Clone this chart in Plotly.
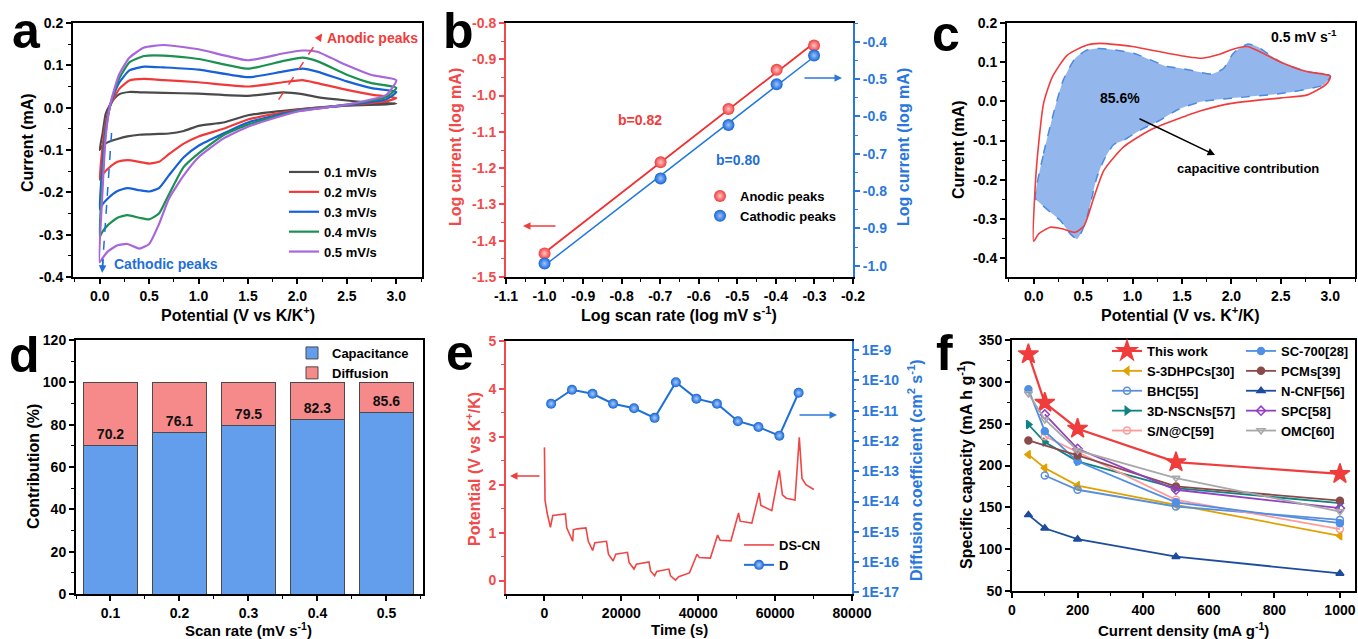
import numpy as np
import plotly.graph_objects as go

W, H = 1358, 639
FONT = "Liberation Sans"
RED = "#f03c3c"
BLUE = "#1f6fd8"

# ---------------- panel a : CV curves ----------------
cv_rates = ["0.1 mV/s", "0.2 mV/s", "0.3 mV/s", "0.4 mV/s", "0.5 mV/s"]
cv_colors = ["#4a4a4a", "#f03a3a", "#1660d8", "#1a9150", "#a866dc"]
anodic_V = [0.0, 0.03, 0.06, 0.1, 0.15, 0.2, 0.3, 0.45, 0.65, 1.0, 1.5, 1.85, 2.05, 2.2, 2.5, 2.75, 3.0]
anodic_I_01 = [-0.100, -0.060, -0.015, 0.005, 0.022, 0.032, 0.037, 0.036, 0.035, 0.033, 0.028, 0.036, 0.032, 0.025, 0.017, 0.012, 0.010]
anodic_I_02 = [-0.170, -0.090, -0.035, 0.000, 0.025, 0.045, 0.064, 0.068, 0.065, 0.060, 0.050, 0.060, 0.065, 0.058, 0.042, 0.031, 0.023]
anodic_I_03 = [-0.240, -0.130, -0.050, 0.000, 0.035, 0.060, 0.088, 0.097, 0.095, 0.090, 0.072, 0.085, 0.092, 0.085, 0.062, 0.046, 0.037]
anodic_I_04 = [-0.305, -0.160, -0.060, 0.000, 0.040, 0.070, 0.107, 0.122, 0.123, 0.115, 0.092, 0.110, 0.118, 0.110, 0.078, 0.058, 0.047]
anodic_I_05 = [-0.365, -0.190, -0.070, 0.000, 0.045, 0.080, 0.118, 0.142, 0.148, 0.138, 0.112, 0.128, 0.135, 0.132, 0.100, 0.077, 0.065]
cathodic_V = [3.0, 2.9, 2.5, 2.0, 1.5, 1.25, 1.0, 0.85, 0.7, 0.6, 0.5, 0.4, 0.28, 0.18, 0.08, 0.03, 0.0]
cathodic_I_01 = [0.010, 0.008, 0.005, -0.004, -0.018, -0.035, -0.043, -0.055, -0.061, -0.062, -0.063, -0.064, -0.068, -0.074, -0.082, -0.090, -0.100]
cathodic_I_02 = [0.023, 0.015, 0.006, -0.005, -0.028, -0.050, -0.068, -0.085, -0.110, -0.128, -0.132, -0.128, -0.124, -0.128, -0.145, -0.158, -0.170]
cathodic_I_03 = [0.037, 0.020, 0.006, -0.007, -0.035, -0.061, -0.090, -0.117, -0.160, -0.190, -0.198, -0.195, -0.190, -0.197, -0.215, -0.228, -0.240]
cathodic_I_04 = [0.047, 0.025, 0.007, -0.008, -0.040, -0.065, -0.108, -0.140, -0.205, -0.250, -0.264, -0.260, -0.254, -0.260, -0.278, -0.292, -0.305]
cathodic_I_05 = [0.065, 0.030, 0.007, -0.009, -0.045, -0.073, -0.117, -0.160, -0.215, -0.275, -0.322, -0.333, -0.322, -0.325, -0.340, -0.355, -0.365]
anodic_sets = [anodic_I_01, anodic_I_02, anodic_I_03, anodic_I_04, anodic_I_05]
cathodic_sets = [cathodic_I_01, cathodic_I_02, cathodic_I_03, cathodic_I_04, cathodic_I_05]

# ---------------- panel b : log i vs log v ----------------
log_v = [-1.0, -0.699, -0.523, -0.398, -0.301]
log_i_anodic = [-1.435, -1.184, -1.037, -0.929, -0.862]
log_i_cathodic = [-0.994, -0.766, -0.623, -0.514, -0.437]

# ---------------- panel c : capacitive contribution ----------------
c_total_V = [0.0, 0.017, 0.05, 0.10, 0.19, 0.34, 0.54, 0.67, 1.0, 1.18, 1.55, 1.70, 1.88, 2.0, 2.16, 2.5, 2.76, 3.0,
             2.98, 2.93, 2.76, 2.5, 2.0, 1.69, 1.52, 1.18, 0.91, 0.71, 0.61, 0.51, 0.42, 0.29, 0.17, 0.05, 0.0]
c_total_I = [-0.357, -0.21, -0.108, -0.005, 0.063, 0.118, 0.144, 0.148, 0.140, 0.131, 0.114, 0.110, 0.120, 0.132, 0.140, 0.100, 0.076, 0.065,
             0.050, 0.038, 0.016, 0.009, -0.005, -0.024, -0.039, -0.073, -0.116, -0.176, -0.244, -0.317, -0.334, -0.325, -0.321, -0.338, -0.357]
c_cap_V = [0.017, 0.10, 0.20, 0.30, 0.42, 0.54, 0.67, 1.01, 1.35, 1.50, 1.65, 1.80, 1.92, 2.02, 2.16, 2.26, 2.5, 2.76, 3.0,
           2.93, 2.5, 2.0, 1.69, 1.45, 1.28, 1.08, 0.91, 0.81, 0.71, 0.64, 0.59, 0.54, 0.49, 0.44, 0.37, 0.27, 0.17, 0.07, 0.017]
c_cap_I = [-0.248, -0.133, -0.031, 0.055, 0.110, 0.131, 0.135, 0.123, 0.089, 0.084, 0.076, 0.070, 0.084, 0.123, 0.146, 0.140, 0.100, 0.076, 0.065,
           0.042, 0.020, 0.008, -0.001, -0.022, -0.048, -0.073, -0.099, -0.110, -0.150, -0.193, -0.244, -0.295, -0.330, -0.351, -0.338, -0.304, -0.283, -0.261, -0.248]

# ---------------- panel d : contribution bars ----------------
scan_rates = [0.1, 0.2, 0.3, 0.4, 0.5]
capacitance = [70.2, 76.1, 79.5, 82.3, 85.6]
diffusion = [round(100 - c, 1) for c in capacitance]

# ---------------- panel e : GITT ----------------
gitt_t = [0, 150, 700, 1550, 2170, 5440, 5800, 7350, 7510, 8500, 10800, 11400, 12530, 13130, 16150, 16650, 17860, 18560,
          21590, 22020, 23300, 23900, 27190, 27600, 28660, 29200, 32360, 32800, 34100, 34900, 37720, 39700, 40300, 43160,
          45050, 45700, 48510, 50490, 50900, 53950, 55840, 56300, 59130, 61100, 61900, 62900, 65170, 66290, 67000, 68000, 70080]
gitt_V = [2.78, 1.68, 1.41, 1.11, 1.36, 1.39, 1.10, 0.82, 1.06, 1.08, 1.10, 0.82, 0.63, 0.79, 0.82, 0.55, 0.41, 0.55,
          0.59, 0.38, 0.24, 0.34, 0.39, 0.20, 0.10, 0.19, 0.24, 0.10, 0.01, 0.08, 0.16, 0.55, 0.48, 0.47,
          0.95, 0.84, 0.83, 1.41, 1.24, 1.20, 1.83, 1.57, 1.46, 2.30, 1.79, 1.72, 1.68, 2.99, 2.13, 2.00, 1.90]
d_time = [1730, 7160, 12510, 17860, 23300, 28650, 34180, 39530, 44880, 50310, 55660, 61100, 66110]
d_coeff = [1.7e-11, 4.9e-11, 3.6e-11, 1.7e-11, 1.2e-11, 5.8e-12, 8.7e-11, 2.5e-11, 1.7e-11, 4.5e-12, 2.9e-12, 1.5e-12, 3.9e-11]

# ---------------- panel f : rate capability comparison ----------------
f_names = ["This work", "S-3DHPCs[30]", "BHC[55]", "3D-NSCNs[57]", "S/N@C[59]",
           "SC-700[28]", "PCMs[39]", "N-CNF[56]", "SPC[58]", "OMC[60]"]
f_x = [[50, 100, 200, 500, 1000], [50, 100, 200, 500, 1000], [100, 200, 500, 1000], [50, 100, 200, 500, 1000], [100, 200, 500, 1000],
       [50, 100, 200, 500, 1000], [50, 200, 500, 1000], [50, 100, 200, 500, 1000], [100, 200, 500, 1000], [50, 100, 200, 500, 1000]]
f_y = [[333, 275, 244, 204, 190], [213, 197, 176, 153, 116], [188, 171, 151, 135], [249, 228, 205, 173, 155], [235, 216, 159, 124],
       [291, 241, 205, 156, 131], [230, 212, 175, 158], [141, 125, 112, 91, 71], [261, 220, 171, 149], [286, 255, 218, 185, 145]]
f_colors = ["#f03c3c", "#e0a200", "#5b8fd8", "#0f8282", "#ff9a9a",
            "#4f8fe6", "#8b4a4a", "#1d4c9e", "#9440c4", "#a8a8a8"]
f_symbols = ["star", "triangle-left", "circle-open", "triangle-right", "circle-open",
             "circle", "circle", "triangle-up", "diamond-open", "triangle-down-open"]


def px(x):
    return x / W


def py(y):
    return 1 - y / H


fig = go.Figure()

# ---- a ----
for name, col, an, ca in zip(cv_rates, cv_colors, anodic_sets, cathodic_sets):
    fig.add_trace(go.Scatter(x=anodic_V + cathodic_V[1:], y=an + ca[1:], mode="lines", name=name,
                             line=dict(color=col, width=2.2, shape="spline", smoothing=0.5),
                             xaxis="x", yaxis="y", legend="legend"))

# ---- b ----
fit_a = np.polyfit(log_v, log_i_anodic, 1)
fit_c = np.polyfit(log_v, log_i_cathodic, 1)
xfit = np.array([min(log_v), max(log_v)])
fig.add_trace(go.Scatter(x=xfit, y=np.polyval(fit_a, xfit), mode="lines", line=dict(color="#f03030", width=1.8),
                         showlegend=False, xaxis="x2", yaxis="y2"))
fig.add_trace(go.Scatter(x=xfit, y=np.polyval(fit_c, xfit), mode="lines", line=dict(color="#1f78e0", width=1.5),
                         showlegend=False, xaxis="x2", yaxis="y3"))
fig.add_trace(go.Scatter(x=log_v, y=log_i_anodic, mode="markers", name="Anodic peaks",
                         marker=dict(size=12, color="#f03c3c", gradient=dict(type="radial", color="#ffc4c4"),
                                     line=dict(width=0)),
                         xaxis="x2", yaxis="y2", legend="legend2"))
fig.add_trace(go.Scatter(x=log_v, y=log_i_cathodic, mode="markers", name="Cathodic peaks",
                         marker=dict(size=12, color="#1464d4", gradient=dict(type="radial", color="#9cc4ff"),
                                     line=dict(width=0)),
                         xaxis="x2", yaxis="y3", legend="legend2"))

# ---- c ----
fig.add_trace(go.Scatter(x=c_cap_V, y=c_cap_I, mode="lines", fill="toself", fillcolor="rgba(120,165,232,0.80)",
                         line=dict(color="#4a8be0", width=1.5, dash="dash", shape="spline", smoothing=0.6),
                         showlegend=False, xaxis="x3", yaxis="y4"))
fig.add_trace(go.Scatter(x=c_total_V, y=c_total_I, mode="lines",
                         line=dict(color="#f03c3c", width=1.6, shape="spline", smoothing=0.6),
                         showlegend=False, xaxis="x3", yaxis="y4"))

# ---- d ----
fig.add_trace(go.Bar(x=scan_rates, y=capacitance, width=0.079, name="Capacitance",
                     marker=dict(color="#629eeb", line=dict(color="#4a4a4a", width=1)),
                     xaxis="x4", yaxis="y5", legend="legend3"))
fig.add_trace(go.Bar(x=scan_rates, y=diffusion, width=0.079, name="Diffusion",
                     marker=dict(color="#f68a8a", line=dict(color="#4a4a4a", width=1)),
                     xaxis="x4", yaxis="y5", legend="legend3"))
fig.add_trace(go.Scatter(x=scan_rates, y=[c + 4.7 for c in capacitance], text=[f"{c:.1f}" for c in capacitance],
                         mode="text", textfont=dict(family=FONT, size=14, color="#111", weight="bold"),
                         showlegend=False, xaxis="x4", yaxis="y5"))

# ---- e ----
fig.add_trace(go.Scatter(x=gitt_t, y=gitt_V, mode="lines", name="DS-CN", line=dict(color="#f04545", width=1.6),
                         xaxis="x5", yaxis="y6", legend="legend4"))
fig.add_trace(go.Scatter(x=d_time, y=d_coeff, mode="lines+markers", name="D",
                         line=dict(color="#1f6fd8", width=2),
                         marker=dict(size=10, color="#1464d4", gradient=dict(type="radial", color="#a8ccff")),
                         xaxis="x5", yaxis="y7", legend="legend4"))

# ---- f ----
for i, (nm, xs, ys, col, sym) in enumerate(zip(f_names, f_x, f_y, f_colors, f_symbols)):
    size = 15 if sym == "star" else 7
    fig.add_trace(go.Scatter(x=xs, y=ys, mode="lines+markers", name=nm,
                             line=dict(color=col, width=2.2 if i == 0 else 1.8),
                             marker=dict(symbol=sym, size=size, color=col, line=dict(color=col, width=1.5)),
                             xaxis="x6", yaxis="y8", legend="legend5" if i < 5 else "legend6"))

# ---------------- axes ----------------
TICKFONT = dict(family=FONT, size=14, color="black", weight="bold")


def axis(domain, rng, tickvals, ticktext, anchor, minor_dtick, color="black", mirror=True, side=None, **kw):
    d = dict(domain=domain, range=rng, anchor=anchor, tickmode="array", tickvals=tickvals, ticktext=ticktext,
             showline=True, linewidth=2, linecolor=color, mirror=mirror, ticks="outside", ticklen=5,
             tickwidth=1.5, tickcolor=color, showgrid=False, zeroline=False,
             tickfont=dict(TICKFONT, color=color),
             minor=dict(dtick=minor_dtick, ticks="outside", ticklen=3, tickwidth=1.2, tickcolor=color, showgrid=False))
    if side:
        d["side"] = side
    d.update(kw)
    return d


def fmt(vals, nd):
    return [f"{v:.{nd}f}" for v in vals]


ya_dom = [py(277), py(23)]
yb_dom = [py(594), py(340)]

xa_ticks = [0, 0.5, 1.0, 1.5, 2.0, 2.5, 3.0]
ya_ticks = [-0.4, -0.3, -0.2, -0.1, 0.0, 0.1, 0.2]
xb_ticks = [-1.1, -1.0, -0.9, -0.8, -0.7, -0.6, -0.5, -0.4, -0.3, -0.2]
yb_ticks = [-1.5, -1.4, -1.3, -1.2, -1.1, -1.0, -0.9, -0.8]
yb2_ticks = [-1.0, -0.9, -0.8, -0.7, -0.6, -0.5, -0.4]
yd_ticks = [0, 20, 40, 60, 80, 100, 120]
xe_ticks = [0, 20000, 40000, 60000, 80000]
ye_ticks = [0, 1, 2, 3, 4, 5]
ye2_ticks = [1e-9, 1e-10, 1e-11, 1e-12, 1e-13, 1e-14, 1e-15, 1e-16, 1e-17]
ye2_text = ["1E-9", "1E-10", "1E-11", "1E-12", "1E-13", "1E-14", "1E-15", "1E-16", "1E-17"]
xf_ticks = [0, 200, 400, 600, 800, 1000]
yf_ticks = [50, 100, 150, 200, 250, 300, 350]

REDAX = "#f24a4a"
BLUEAX = "#2a78dc"

fig.update_layout(
    xaxis=axis([px(73), px(422)], [-0.27, 3.26], xa_ticks, fmt(xa_ticks, 1), "y", 0.25),
    yaxis=axis(ya_dom, [-0.4, 0.2], ya_ticks, fmt(ya_ticks, 1), "x", 0.05),
    xaxis2=axis([px(506), px(853)], [-1.1, -0.2], xb_ticks, fmt(xb_ticks, 1), "y2", 0.05),
    yaxis2=axis(ya_dom, [-1.5, -0.8], yb_ticks, fmt(yb_ticks, 1), "x2", 0.05, color=REDAX, mirror=False),
    yaxis3=axis(ya_dom, [-1.03, -0.35], yb2_ticks, fmt(yb2_ticks, 1), "x2", 0.05, color=BLUEAX, mirror=False,
                side="right", overlaying="y2"),
    xaxis3=axis([px(1007), px(1355)], [-0.27, 3.25], xa_ticks, fmt(xa_ticks, 1), "y4", 0.25),
    yaxis4=axis(ya_dom, [-0.448, 0.2], ya_ticks, fmt(ya_ticks, 1), "x3", 0.05),
    xaxis4=axis([px(76), px(423)], [0.05, 0.553], scan_rates, fmt(scan_rates, 1), "y5", 0.05),
    yaxis5=axis(yb_dom, [0, 120], yd_ticks, [str(v) for v in yd_ticks], "x4", 10),
    xaxis5=axis([px(506), px(852)], [-10000, 80000], xe_ticks, [str(v) for v in xe_ticks], "y6", 10000),
    yaxis6=axis([py(594), py(341)], [-0.28, 5], ye_ticks, [str(v) for v in ye_ticks], "x5", 0.5, color=REDAX,
                mirror=False),
    yaxis7=dict(axis([py(594), py(341)], [-17.05, -8.7], ye2_ticks, ye2_text, "x5", None, color=BLUEAX,
                     mirror=False, side="right", overlaying="y6", type="log")),
    xaxis6=axis([px(1012), px(1355)], [0, 1046], xf_ticks, [str(v) for v in xf_ticks], "y8", 100),
    yaxis8=axis([py(591), py(340)], [50, 350], yf_ticks, [str(v) for v in yf_ticks], "x6", 25),
)
# log axis minor ticks
fig.layout.yaxis7.minor = dict(ticks="outside", ticklen=2, tickwidth=1, tickcolor=BLUEAX, showgrid=False)
# top frame lines for twin-axis panels (black)
fig.layout.xaxis2.mirror = True
fig.layout.xaxis5.mirror = True

LEGFONT = dict(family=FONT, size=13, color="black", weight="bold")


def legend(x, y):
    return dict(x=px(x), y=py(y), xanchor="left", yanchor="top", bgcolor="rgba(0,0,0,0)",
                font=LEGFONT, borderwidth=0, traceorder="normal", tracegroupgap=0)


fig.update_layout(
    legend=legend(284, 157),
    legend2=legend(700, 181),
    legend3=legend(292, 338),
    legend4=legend(739, 530),
    legend5=legend(1107, 336),
    legend6=legend(1241, 336),
    barmode="stack",
    width=W, height=H, autosize=False,
    margin=dict(l=0, r=0, t=0, b=0, autoexpand=False),
    paper_bgcolor="white", plot_bgcolor="white",
    font=dict(family=FONT, color="black"),
)

ann = []


def text(x, y, s, size=14, color="black", xanchor="center", yanchor="middle", angle=0):
    ann.append(dict(x=px(x), y=py(y), xref="paper", yref="paper", text=s, showarrow=False,
                    font=dict(family=FONT, size=size, color=color, weight="bold"),
                    xanchor=xanchor, yanchor=yanchor, textangle=angle))


def arrow(hx, hy, tx, ty, color="black", width=1.5):
    ann.append(dict(x=px(hx), y=py(hy), xref="paper", yref="paper", ax=tx - hx, ay=ty - hy, text="",
                    showarrow=True, arrowhead=2, arrowsize=1, arrowwidth=width, arrowcolor=color))


# panel letters
for lab, x, y in [("a", 26, 31), ("b", 458, 31), ("c", 946, 34), ("d", 24, 355), ("e", 460, 353), ("f", 944, 353)]:
    text(x, y, lab, size=50)

# axis titles
TS = 16
text(27, 143, "Current (mA)", TS, angle=-90)
text(238, 314, "Potential (V vs K/K<sup>+</sup>)", TS)
text(455, 147, "Log current (log mA)", TS, color=REDAX, angle=-90)
text(903, 147, "Log current (log mA)", TS, color=BLUEAX, angle=-90)
text(679, 314, "Log scan rate (log mV s<sup>-1</sup>)", TS)
text(958, 150, "Current (mA)", TS, angle=-90)
text(1180, 314, "Potential (V vs. K<sup>+</sup>/K)", TS)
text(33, 467, "Contribution (%)", TS, angle=-90)
text(248, 629, "Scan rate (mV s<sup>-1</sup>)", 15)
text(473, 469, "Potential (V vs K<sup>+</sup>/K)", TS, color=REDAX, angle=-90)
text(915, 470, "Diffusion coefficient (cm<sup>2</sup> s<sup>-1</sup>)", TS, color=BLUEAX, angle=-90)
text(679, 629, "Time (s)", 15)
text(965, 465, "Specific capacity (mA h g<sup>-1</sup>)", TS, angle=-90)
text(1183, 629, "Current density (mA g<sup>-1</sup>)", 15)

# panel a notes
text(325, 38, "Anodic peaks", 14, color=RED, xanchor="left")
text(112, 264, "Cathodic peaks", 14, color=BLUE, xanchor="left")
# panel b notes
text(640, 120, "b=0.82", 14, color=RED)
text(738, 160, "b=0.80", 14, color=BLUE)
arrow(523, 226, 557, 226, color=RED)
arrow(842, 78, 803, 78, color=BLUEAX)
# panel c notes
text(1339, 36, "0.5 mV s<sup>-1</sup>", 14, xanchor="right")
text(1120, 98, "85.6%", 14)
text(1248, 168, "capacitive contribution", 13)
arrow(1215, 155, 1138, 118)
# panel e arrows
arrow(510, 476, 541, 476, color=RED)
arrow(837, 415, 798, 415, color=BLUEAX)

# dashed guide arrows in panel a (data coordinates)
shapes = [
    dict(type="line", xref="x", yref="y", x0=1.81, y0=0.019, x1=2.24, y1=0.171,
         line=dict(color=RED, width=1.5, dash="dash")),
    dict(type="line", xref="x", yref="y", x0=0.12, y0=-0.06, x1=0.025, y1=-0.385,
         line=dict(color=BLUE, width=1.5, dash="dash")),
]
ann.append(dict(x=2.25, y=0.175, xref="x", yref="y", axref="x", ayref="y", ax=2.20, ay=0.158, text="",
                showarrow=True, arrowhead=2, arrowsize=1, arrowwidth=1.5, arrowcolor=RED))
ann.append(dict(x=0.025, y=-0.39, xref="x", yref="y", axref="x", ayref="y", ax=0.035, ay=-0.355, text="",
                showarrow=True, arrowhead=2, arrowsize=1, arrowwidth=1.5, arrowcolor=BLUE))

fig.update_layout(annotations=ann, shapes=shapes)

fig.write_html("out.html")
